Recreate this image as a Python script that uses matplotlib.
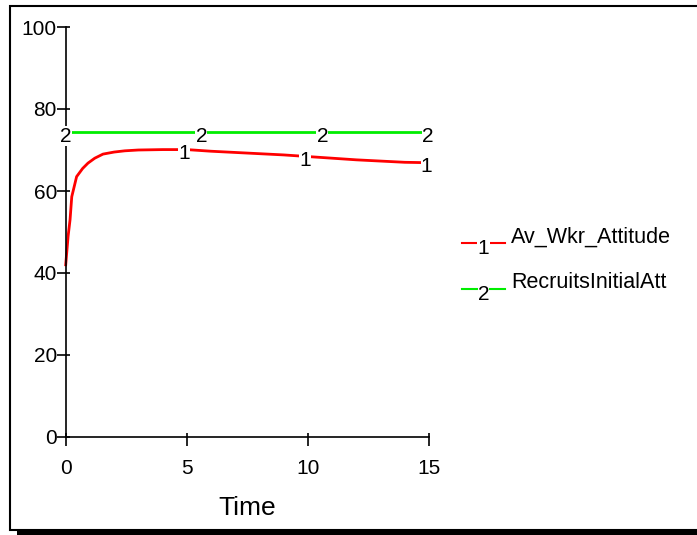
import numpy as np
import matplotlib
matplotlib.use("Agg")
import matplotlib.pyplot as plt
from matplotlib.lines import Line2D
from matplotlib.patches import Rectangle

plt.rcParams['font.family'] = ['Liberation Sans', 'DejaVu Sans']

# data
time = [0, 0.1, 0.18, 0.25, 0.45, 0.7, 0.92, 1.2, 1.54, 2.0, 2.44, 3, 4, 5, 6,
        7, 8, 9, 10, 11, 12, 13, 14, 15]
av_wkr_attitude = [42, 49, 53, 58.6, 63.5, 65.5, 66.8, 68.0, 69.0, 69.5, 69.8,
                   70.0, 70.1, 70.1, 69.7, 69.4, 69.1, 68.8, 68.4, 68.0, 67.6, 67.3,
                   67.0, 66.9]
recruits_initial_att = [74.4] * len(time)

series_names = ['Av_Wkr_Attitude', 'RecruitsInitialAtt']
series_colors = ['#ff0000', '#00ee00']
label_times = [[4.9, 9.9, 14.9], [0.0, 5.6, 10.6, 14.95]]
x_ticks = [0, 5, 10, 15]
y_ticks = [0, 20, 40, 60, 80, 100]

fig = plt.figure(figsize=(6.97, 5.35), dpi=100)
W, H = 697, 535

# frame with drop shadow
fig.patches.append(Rectangle((17 / W, 0), 1, 5 / H, transform=fig.transFigure,
                             facecolor='black', edgecolor='none', zorder=-3))
fig.patches.append(Rectangle((9.5 / W, 5 / H), 1, (529 - 5) / H, transform=fig.transFigure,
                             facecolor='white', edgecolor='black', linewidth=1.5, zorder=-2))

ax = fig.add_axes([65.7 / W, 1 - 437 / H, (429 - 65.7) / W, (437 - 27) / H])
ax.set_zorder(1)
ax.set_facecolor('none')
ax.set_xlim(0, 15)
ax.set_ylim(0, 100)
ax.spines['top'].set_visible(False)
ax.spines['right'].set_visible(False)
for s in ('left', 'bottom'):
    ax.spines[s].set_linewidth(1.2)

# ticks stick out more than they stick in: major 'out' + minor 'in' on same spots
ax.set_xticks(x_ticks)
ax.set_yticks(y_ticks)
ax.set_xticks(x_ticks, minor=True)
ax.set_yticks(y_ticks, minor=True)
ax.xaxis.remove_overlapping_locs = False
ax.yaxis.remove_overlapping_locs = False
ax.tick_params(which='major', direction='out', length=6.3, width=1.2, labelsize=15)
ax.tick_params(which='minor', direction='in', length=3.2, width=1.2)
ax.tick_params(axis='y', which='major', pad=0)
ax.tick_params(axis='x', which='major', pad=9.5)
ax.set_xlabel('Time', fontsize=19, labelpad=13)

all_series = [av_wkr_attitude, recruits_initial_att]
for vals, color, ltimes, num in zip(all_series, series_colors, label_times, ['1', '2']):
    ax.plot(time, vals, color=color, linewidth=2, clip_on=False, zorder=2)
    for t in ltimes:
        yv = np.interp(t, time, vals)
        ax.text(t, yv - 1, num, ha='center', va='center', fontsize=15, zorder=3,
                bbox=dict(facecolor='white', edgecolor='none', pad=0.2))

# legend drawn in figure space like the original tool
legend_y = [243, 289]
for name, color, num, ly in zip(series_names, series_colors, ['1', '2'], legend_y):
    fig.lines.append(Line2D([462 / W, 505 / W], [1 - ly / H, 1 - ly / H],
                            transform=fig.transFigure, color=color, linewidth=1.5))
    fig.text(483.5 / W, 1 - (ly + 5) / H, num, ha='center', va='center', fontsize=15,
             bbox=dict(facecolor='white', edgecolor='none', pad=0.2))
    fig.text(511 / W, 1 - (ly - 6) / H, name, ha='left', va='center', fontsize=15.5)

fig.savefig('out.png', dpi=100)
